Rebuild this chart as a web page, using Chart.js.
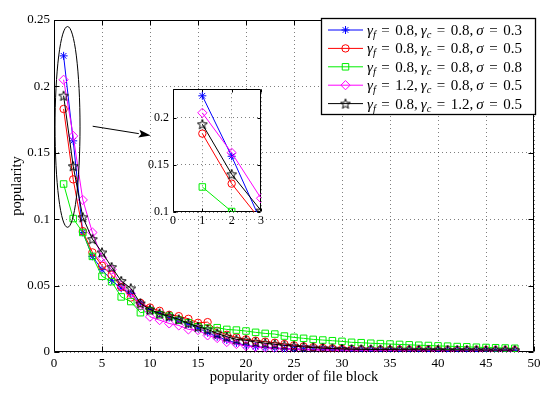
<!DOCTYPE html>
<html>
<head>
<meta charset="utf-8">
<script src="https://cdn.jsdelivr.net/npm/chart.js@4.4.0/dist/chart.umd.min.js"></script>
<style>
  body { margin: 0; background: #fff; }
  #wrap { position: relative; width: 550px; height: 394px; }
  #main { position: absolute; left: 0; top: 0; }
  #inset { position: absolute; left: 133px; top: 78px; }
</style>
</head>
<body>
<div id="wrap">
  <canvas id="main" width="550" height="394"></canvas>
  <canvas id="inset" width="135" height="155"></canvas>
</div>
<script>
// popularity order of file block (x)
const blockOrder = [1, 2, 3, 4, 5, 6, 7, 8, 9, 10,
  11, 12, 13, 14, 15, 16, 17, 18, 19, 20,
  21, 22, 23, 24, 25, 26, 27, 28, 29, 30,
  31, 32, 33, 34, 35, 36, 37, 38, 39, 40,
  41, 42, 43, 44, 45, 46, 47, 48];

// series parameters (legend)
const gammaF = [0.8, 0.8, 0.8, 1.2, 0.8];
const gammaC = [0.8, 0.8, 0.8, 0.8, 1.2];
const sigma = [0.3, 0.5, 0.8, 0.5, 0.5];

// popularity values
const popBlue = [0.223, 0.159, 0.090, 0.072, 0.062, 0.054, 0.048, 0.044, 0.037, 0.032,
  0.029, 0.026, 0.024, 0.021, 0.018, 0.0145, 0.0115, 0.009, 0.0068, 0.005,
  0.004, 0.0034, 0.003, 0.0026, 0.0023, 0.0021, 0.0019, 0.0018, 0.0017, 0.0016,
  0.0015, 0.0015, 0.0014, 0.0014, 0.0013, 0.0013, 0.0013, 0.0012, 0.0012, 0.0012,
  0.0012, 0.0011, 0.0011, 0.0011, 0.0011, 0.0011, 0.001, 0.001];
const popRed = [0.183, 0.130, 0.091, 0.075, 0.065, 0.058, 0.049, 0.041, 0.037, 0.0335,
  0.031, 0.028, 0.027, 0.025, 0.022, 0.0225, 0.016, 0.013, 0.011, 0.0095,
  0.0085, 0.0078, 0.007, 0.006, 0.005, 0.0042, 0.0036, 0.0031, 0.0027, 0.0024,
  0.0022, 0.002, 0.0019, 0.0018, 0.0017, 0.0017, 0.0016, 0.0016, 0.0015, 0.0015,
  0.0015, 0.0014, 0.0014, 0.0014, 0.0014, 0.0013, 0.0013, 0.0013];
const popGreen = [0.1265, 0.1005, 0.090, 0.072, 0.057, 0.053, 0.0415, 0.038, 0.0296, 0.031,
  0.028, 0.027, 0.024, 0.022, 0.019, 0.018, 0.0183, 0.017, 0.0165, 0.0158,
  0.0148, 0.014, 0.0135, 0.012, 0.011, 0.0103, 0.0095, 0.009, 0.0085, 0.008,
  0.0073, 0.007, 0.0066, 0.0063, 0.006, 0.0057, 0.0054, 0.0051, 0.0049, 0.0046,
  0.0044, 0.0041, 0.0039, 0.0036, 0.0034, 0.0032, 0.003, 0.0028];
const popMagenta = [0.205, 0.1627, 0.1145, 0.090, 0.071, 0.062, 0.050, 0.044, 0.035, 0.0265,
  0.024, 0.0215, 0.020, 0.017, 0.0165, 0.0125, 0.0105, 0.0075, 0.006, 0.0045,
  0.0038, 0.0032, 0.0027, 0.0023, 0.002, 0.0018, 0.0017, 0.0016, 0.0015, 0.0015,
  0.0014, 0.0014, 0.0014, 0.0013, 0.0013, 0.0013, 0.0013, 0.0012, 0.0012, 0.0012,
  0.0012, 0.0012, 0.0012, 0.0011, 0.0011, 0.0011, 0.0011, 0.0011];
const popBlack = [0.193, 0.140, 0.1015, 0.085, 0.075, 0.064, 0.0535, 0.048, 0.0366, 0.032,
  0.029, 0.027, 0.0246, 0.0216, 0.019, 0.017, 0.014, 0.0115, 0.0095, 0.0088,
  0.0075, 0.0066, 0.0058, 0.005, 0.0044, 0.0038, 0.0033, 0.0029, 0.0026, 0.0023,
  0.0021, 0.002, 0.0019, 0.0018, 0.0018, 0.0017, 0.0017, 0.0016, 0.0016, 0.0016,
  0.0015, 0.0015, 0.0015, 0.0015, 0.0014, 0.0014, 0.0014, 0.0014];

const xTicksMain = [0, 5, 10, 15, 20, 25, 30, 35, 40, 45, 50];
const yTicksMain = [0, 0.05, 0.1, 0.15, 0.2, 0.25];

const FONT = '"Liberation Serif", "Times New Roman", serif';

// black pentagram marker (matlab 'p')
function makePentagram(color, r) {
  const s = Math.ceil(r * 2 + 3);
  const c = document.createElement('canvas');
  c.width = s; c.height = s;
  const g = c.getContext('2d');
  g.strokeStyle = color;
  g.lineWidth = 1;
  g.beginPath();
  for (let k = 0; k < 10; k++) {
    const rr = k % 2 === 0 ? r : r * 0.42;
    const a = -Math.PI / 2 + k * Math.PI / 5;
    const px = s / 2 + rr * Math.cos(a), py = s / 2 + rr * Math.sin(a) + 0.5;
    if (k === 0) g.moveTo(px, py); else g.lineTo(px, py);
  }
  g.closePath();
  g.stroke();
  return c;
}

const series = [
  { vals: popBlue, color: '#0000ff', style: 'star', radius: 4 },
  { vals: popRed, color: '#ff0000', style: 'circle', radius: 3.7 },
  { vals: popGreen, color: '#00ee00', style: 'rect', radius: 4.6 },
  { vals: popMagenta, color: '#ff00ff', style: 'rectRot', radius: 4.6 },
  { vals: popBlack, color: '#000000', style: makePentagram('#000000', 5.2), radius: 5 }
];

function buildDatasets() {
  return series.map((s, i) => ({
    label: 'γf = ' + gammaF[i] + ', γc = ' + gammaC[i] + ', σ = ' + sigma[i],
    data: blockOrder.map((x, k) => ({ x: x, y: s.vals[k] })),
    borderColor: s.color,
    backgroundColor: 'transparent',
    borderWidth: 1,
    pointStyle: s.style,
    pointRadius: s.radius,
    pointBorderColor: s.color,
    pointBackgroundColor: 'transparent',
    pointBorderWidth: 1,
    tension: 0,
    order: 5 - i
  }));
}

// box + inward ticks, drawn under the data
function framePlugin(tickLen, whiteBg) {
  return {
    id: 'frame',
    beforeDraw(chart) {
      if (!whiteBg) return;
      const a = chart.chartArea, ctx = chart.ctx;
      ctx.save();
      ctx.fillStyle = '#fff';
      ctx.fillRect(a.left, a.top, a.right - a.left, a.bottom - a.top);
      ctx.restore();
    },
    beforeDatasetsDraw(chart) {
      const a = chart.chartArea, ctx = chart.ctx;
      const L = Math.round(a.left) + 0.5, R = Math.round(a.right) - 0.5;
      const T = Math.round(a.top) + 0.5, B = Math.round(a.bottom) - 0.5;
      ctx.save();
      ctx.strokeStyle = '#000';
      ctx.lineWidth = 1;
      ctx.beginPath();
      chart.scales.x.ticks.forEach(t => {
        const px = Math.round(chart.scales.x.getPixelForValue(t.value)) + 0.5;
        ctx.moveTo(px, B); ctx.lineTo(px, B - tickLen);
        ctx.moveTo(px, T); ctx.lineTo(px, T + tickLen);
      });
      chart.scales.y.ticks.forEach(t => {
        const py = Math.round(chart.scales.y.getPixelForValue(t.value)) + 0.5;
        ctx.moveTo(L, py); ctx.lineTo(L + tickLen, py);
        ctx.moveTo(R, py); ctx.lineTo(R - tickLen, py);
      });
      ctx.rect(L, T, R - L, B - T);
      ctx.stroke();
      ctx.restore();
    }
  };
}

// legend with math-style text
function drawMathLabel(ctx, x, y, gf, gc, sg) {
  const segs = [
    { t: 'γ', it: true }, { t: 'f', it: true, sub: true },
    { t: '=', gl: 5.5, gr: 5.5 }, { t: gf.toFixed(1) + ',' },
    { t: 'γ', it: true, gl: 3 }, { t: 'c', it: true, sub: true },
    { t: '=', gl: 5.5, gr: 5.5 }, { t: gc.toFixed(1) + ',' },
    { t: 'σ', it: true, gl: 3 },
    { t: '=', gl: 5.5, gr: 5.5 }, { t: sg.toFixed(1) }
  ];
  let cx = x;
  ctx.textBaseline = 'alphabetic';
  ctx.textAlign = 'left';
  segs.forEach(s => {
    cx += s.gl || 0;
    const size = s.sub ? 10.5 : 15;
    ctx.font = (s.it ? 'italic ' : '') + size + 'px ' + FONT;
    ctx.fillText(s.t, cx, y + (s.sub ? 3 : 0));
    cx += ctx.measureText(s.t).width + (s.gr || 0);
  });
  return cx;
}

const annotations = {
  id: 'annotations',
  afterDatasetsDraw(chart) {
    const ctx = chart.ctx, xs = chart.scales.x, ys = chart.scales.y;
    ctx.save();
    ctx.strokeStyle = '#000';
    ctx.fillStyle = '#000';
    ctx.lineWidth = 1;
    // ellipse around first blocks
    const cx = xs.getPixelForValue(1.41), cy = ys.getPixelForValue(0.1695);
    const rx = xs.getPixelForValue(1.41 + 1.3) - cx;
    const ry = cy - ys.getPixelForValue(0.1695 + 0.0756);
    ctx.beginPath();
    ctx.ellipse(cx, cy, rx, ry, 0, 0, Math.PI * 2);
    ctx.stroke();
    // arrow to the inset
    const x1 = xs.getPixelForValue(4.03), y1 = ys.getPixelForValue(0.170);
    const x2 = xs.getPixelForValue(10.07), y2 = ys.getPixelForValue(0.163);
    const ang = Math.atan2(y2 - y1, x2 - x1), hl = 12, hw = 4;
    ctx.beginPath();
    ctx.moveTo(x1, y1);
    ctx.lineTo(x2 - hl * Math.cos(ang), y2 - hl * Math.sin(ang));
    ctx.stroke();
    ctx.beginPath();
    ctx.moveTo(x2, y2);
    ctx.lineTo(x2 - hl * Math.cos(ang) - hw * Math.sin(ang), y2 - hl * Math.sin(ang) + hw * Math.cos(ang));
    ctx.lineTo(x2 - hl * 0.8 * Math.cos(ang), y2 - hl * 0.8 * Math.sin(ang));
    ctx.lineTo(x2 - hl * Math.cos(ang) + hw * Math.sin(ang), y2 - hl * Math.sin(ang) - hw * Math.cos(ang));
    ctx.closePath();
    ctx.fill();
    ctx.restore();
  },
  afterDraw(chart) {
    const ctx = chart.ctx;
    const bx = 321.5, by = 18.5, bw = 214, bh = 96;
    ctx.save();
    ctx.fillStyle = '#fff';
    ctx.fillRect(bx, by, bw, bh);
    ctx.strokeStyle = '#000';
    ctx.lineWidth = 1.3;
    ctx.strokeRect(bx, by, bw, bh);
    series.forEach((s, i) => {
      const ly = 30 + i * 18.4;
      ctx.strokeStyle = s.color;
      ctx.lineWidth = 1;
      ctx.beginPath();
      ctx.moveTo(328, ly);
      ctx.lineTo(363, ly);
      ctx.stroke();
      ctx.fillStyle = 'transparent';
      Chart.helpers.drawPoint(ctx, { pointStyle: s.style, radius: s.radius, rotation: 0, borderWidth: 1 }, 345.5, ly);
      ctx.fillStyle = '#000';
      drawMathLabel(ctx, 367, ly + 5, gammaF[i], gammaC[i], sigma[i]);
    });
    ctx.restore();
  }
};

const gridOpts = { color: 'rgba(0,0,0,0.5)', lineWidth: 1, drawTicks: false };
const borderOpts = { display: false, dash: [1, 3] };

new Chart(document.getElementById('main').getContext('2d'), {
  type: 'line',
  data: { datasets: buildDatasets() },
  options: {
    responsive: false,
    animation: false,
    devicePixelRatio: 1,
    layout: { padding: { left: 0, right: 16, top: 20, bottom: 0 } },
    plugins: { legend: { display: false }, tooltip: { enabled: false } },
    scales: {
      x: {
        type: 'linear', min: 0, max: 50,
        afterFit: s => { s.height = 42; },
        afterBuildTicks: s => { s.ticks = xTicksMain.map(v => ({ value: v })); },
        ticks: { font: { family: FONT, size: 13 }, color: '#000', padding: 4, maxRotation: 0, autoSkip: false },
        grid: gridOpts,
        border: borderOpts,
        title: { display: true, text: 'popularity order of file block', font: { family: FONT, size: 14.5 }, color: '#000', padding: { top: 0, bottom: 8 } }
      },
      y: {
        type: 'linear', min: 0, max: 0.25,
        afterFit: s => { s.width = 54; },
        afterBuildTicks: s => { s.ticks = yTicksMain.map(v => ({ value: v })); },
        ticks: { font: { family: FONT, size: 13 }, color: '#000', padding: 4, callback: v => String(+v.toFixed(2)) },
        grid: gridOpts,
        border: borderOpts,
        title: { display: true, text: 'popularity', font: { family: FONT, size: 14.5 }, color: '#000', padding: { top: 8, bottom: 0 } }
      }
    }
  },
  plugins: [framePlugin(5, false), annotations]
});

// zoomed inset of the first three blocks
const xTicksInset = [0, 1, 2, 3];
const yTicksInset = [0.1, 0.15, 0.2];

new Chart(document.getElementById('inset').getContext('2d'), {
  type: 'line',
  data: { datasets: buildDatasets() },
  options: {
    responsive: false,
    animation: false,
    devicePixelRatio: 1,
    layout: { padding: { left: 0, right: 7, top: 8, bottom: 0 } },
    plugins: { legend: { display: false }, tooltip: { enabled: false } },
    scales: {
      x: {
        type: 'linear', min: 0, max: 3,
        afterFit: s => { s.height = 21; },
        afterBuildTicks: s => { s.ticks = xTicksInset.map(v => ({ value: v })); },
        ticks: { font: { family: FONT, size: 12 }, color: '#000', padding: 2, maxRotation: 0, autoSkip: false },
        grid: gridOpts,
        border: borderOpts
      },
      y: {
        type: 'linear', min: 0.1, max: 0.23,
        afterFit: s => { s.width = 40; },
        afterBuildTicks: s => { s.ticks = yTicksInset.map(v => ({ value: v })); },
        ticks: { font: { family: FONT, size: 12 }, color: '#000', padding: 4, callback: v => String(+v.toFixed(2)) },
        grid: gridOpts,
        border: borderOpts
      }
    }
  },
  plugins: [framePlugin(3, true)]
});
</script>
</body>
</html>
